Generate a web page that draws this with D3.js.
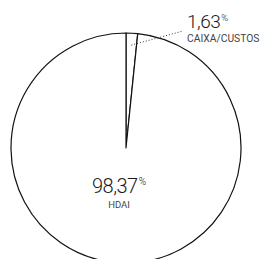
<!DOCTYPE html>
<html><head><meta charset="utf-8">
<script src="https://cdn.jsdelivr.net/npm/d3@7"></script>
<style>html,body{margin:0;padding:0;background:#fff;overflow:hidden}</style>
</head><body>
<svg id="c" width="261" height="259"></svg>
<script>
const categories = ["CAIXA/CUSTOS", "HDAI"];
const values = [1.63, 98.37];
const valueLabels = ["1,63", "98,37"];

const svg = d3.select("#c");
const cx = 126, cy = 148, r = 115;
const g = svg.append("g").attr("transform", `translate(${cx},${cy})`);
const data = categories.map((c, i) => ({cat: c, v: values[i], lbl: valueLabels[i]}));
const pie = d3.pie().value(d => d.v).sort(null);
const arc = d3.arc().innerRadius(0).outerRadius(r);
const arcs = pie(data);

g.selectAll("path").data(arcs).enter().append("path")
  .attr("d", arc).attr("fill", "#fff").attr("stroke", "#111")
  .attr("stroke-width", 1.2).attr("stroke-linejoin", "round");

const a0 = arcs[0];
const mid = (a0.startAngle + a0.endAngle) / 2;
const p1 = [Math.sin(mid) * (r - 12), -Math.cos(mid) * (r - 12)];
g.append("line").attr("x1", p1[0]).attr("y1", p1[1])
  .attr("x2", 183 - cx).attr("y2", 31 - cy)
  .attr("stroke", "#333").attr("stroke-width", 1).attr("stroke-dasharray", "1,2");

const FONT = "Roboto, 'Open Sans', sans-serif";
function label(x, y, d, size, subSize, subGap, anchorCenter) {
  const t = svg.append("text").attr("x", x).attr("y", y)
    .attr("font-family", FONT).attr("font-weight", 300)
    .attr("fill", "#1a1a1a").attr("text-anchor", anchorCenter ? "middle" : "start");
  t.append("tspan").attr("font-size", size).attr("letter-spacing", -0.5).text(d.lbl);
  t.append("tspan").attr("font-size", size * 0.5).attr("dx", 1).attr("dy", -size * 0.38).text("%");
  svg.append("text").attr("x", x).attr("y", y + subGap)
    .attr("font-family", FONT).attr("font-size", subSize)
    .attr("fill", "#444").attr("text-anchor", anchorCenter ? "middle" : "start")
    .text(d.cat);
}
label(187, 28, data[0], 19, 10.3, 14, false);
label(119, 193, data[1], 20, 9.5, 15, true);
</script>
</body></html>
